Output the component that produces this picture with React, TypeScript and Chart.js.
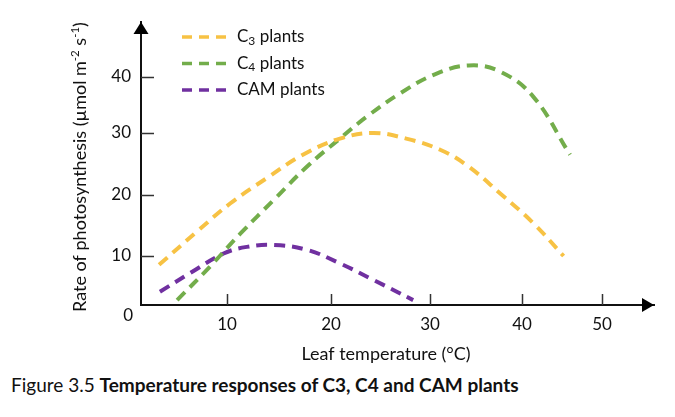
import React, { useEffect, useRef } from 'react';
import { Chart, registerables, LinearScale } from 'chart.js';

// ---- data ----
const SERIES_LABELS = ['C3 plants', 'C4 plants', 'CAM plants'];
const C3_TEMPS = [2.1, 6.5, 10.3, 13.8, 17.3, 20.9, 24.3, 27.6, 31.1, 34.0, 37.6, 41.4, 45.2];
const C3_RATES = [8.2, 14.0, 18.6, 22.7, 26.5, 29.1, 30.0, 29.1, 27.3, 24.8, 20.3, 15.4, 10.0];
const C4_TEMPS = [4.2, 8.0, 11.3, 14.5, 17.7, 20.9, 23.6, 27.0, 30.4, 34.2, 37.6, 41.4, 46.0];
const C4_RATES = [1.0, 7.8, 13.7, 19.2, 24.6, 29.1, 32.9, 37.1, 40.4, 42.1, 41.0, 36.5, 26.5];
const CAM_TEMPS = [2.2, 5.7, 9.6, 11.9, 14.5, 17.7, 20.9, 24.3, 28.3];
const CAM_RATES = [2.7, 6.5, 10.4, 11.5, 11.8, 11.0, 8.5, 5.1, 1.0];
const X_TICKS = [10, 20, 30, 40, 50];
const Y_TICKS = [10, 20, 30, 40];
const X_TITLE = 'Leaf temperature (°C)';
const Y_TITLE_PARTS = ['Rate of photosynthesis (µmol m', '-2', ' s', '-1', ')'];
const ORIGIN_LABEL = '0';

// ---- axis layout (the hand-drawn axes are not evenly spaced) ----
const WARPS: Record<string, { values: number[]; fracs: number[]; ticks: number[] }> = {
  x: { values: [0, 10, 20, 30, 40, 50, 56.5], fracs: [0, 86, 190, 289, 381, 461, 513].map((p) => p / 513), ticks: X_TICKS },
  y: { values: [0, 10, 20, 30, 40, 50], fracs: [0, 49, 110, 172, 228, 283].map((p) => p / 283), ticks: Y_TICKS },
};

function interp(v: number, from: number[], to: number[]) {
  const n = from.length;
  let i = 0;
  if (v >= from[n - 1]) i = n - 2;
  else {
    while (i < n - 2 && v > from[i + 1]) i++;
  }
  const t = (v - from[i]) / (from[i + 1] - from[i]);
  return to[i] + t * (to[i + 1] - to[i]);
}

class PiecewiseScale extends LinearScale {
  static id = 'piecewise';
  static defaults = {};
  buildTicks() {
    const w = WARPS[this.id];
    (this as any).start = this.min;
    (this as any).end = this.max;
    return w.ticks.map((v) => ({ value: v }));
  }
  getPixelForValue(value: number) {
    if (value === null || value === undefined || isNaN(value)) return NaN;
    const w = WARPS[this.id];
    return this.getPixelForDecimal(interp(value, w.values, w.fracs));
  }
  getValueForPixel(pixel: number) {
    const w = WARPS[this.id];
    return interp(this.getDecimalForPixel(pixel), w.fracs, w.values);
  }
}

Chart.register(...registerables, PiecewiseScale);

const FONT = 'Lato';
const TEXT = '#111';
const COLORS = ['#F7C244', '#73AD4B', '#7030A0'];

const decorPlugin = {
  id: 'decor',
  afterDraw(chart: any) {
    const { ctx, chartArea: a, scales } = chart;
    const xs = scales.x;
    const ys = scales.y;
    ctx.save();
    // inward tick marks
    ctx.strokeStyle = '#333';
    ctx.lineWidth = 1.5;
    ctx.beginPath();
    X_TICKS.forEach((v) => {
      const p = Math.round(xs.getPixelForValue(v)) + 0.5;
      ctx.moveTo(p, a.bottom);
      ctx.lineTo(p, a.bottom - 11);
    });
    Y_TICKS.forEach((v) => {
      const p = Math.round(ys.getPixelForValue(v)) + 0.5;
      ctx.moveTo(a.left, p);
      ctx.lineTo(a.left + 13, p);
    });
    ctx.stroke();
    // arrow heads
    ctx.fillStyle = '#000';
    ctx.beginPath();
    ctx.moveTo(a.left, a.top);
    ctx.lineTo(a.left - 7.5, a.top + 12);
    ctx.lineTo(a.left + 7.5, a.top + 12);
    ctx.closePath();
    ctx.fill();
    ctx.beginPath();
    ctx.moveTo(a.right, a.bottom);
    ctx.lineTo(a.right - 12, a.bottom - 7);
    ctx.lineTo(a.right - 12, a.bottom + 7);
    ctx.closePath();
    ctx.fill();

    ctx.fillStyle = TEXT;
    // origin label
    ctx.font = `17px ${FONT}`;
    ctx.textAlign = 'right';
    ctx.textBaseline = 'middle';
    ctx.fillText(ORIGIN_LABEL, a.left - 8, a.bottom + 11);

    // x title
    ctx.font = `18px ${FONT}`;
    ctx.textAlign = 'center';
    ctx.fillText(X_TITLE, a.left + 245, a.bottom + 49);

    // y title (rotated, with superscripts)
    const big = `18px ${FONT}`;
    const small = `11.5px ${FONT}`;
    ctx.save();
    ctx.translate(a.left - 61, a.top + 145);
    ctx.rotate(-Math.PI / 2);
    ctx.textAlign = 'left';
    ctx.textBaseline = 'middle';
    const widths = Y_TITLE_PARTS.map((s, i) => {
      ctx.font = i % 2 === 1 ? small : big;
      return ctx.measureText(s).width;
    });
    let cx = -widths.reduce((s, w) => s + w, 0) / 2;
    Y_TITLE_PARTS.forEach((s, i) => {
      const sup = i % 2 === 1;
      ctx.font = sup ? small : big;
      ctx.fillText(s, cx, sup ? -5 : 0);
      cx += widths[i];
    });
    ctx.restore();

    // legend
    const legendFont = `17px ${FONT}`;
    chart.data.datasets.forEach((ds: any, i: number) => {
      const yRow = a.top + 15 + i * 26.5;
      ctx.save();
      ctx.strokeStyle = ds.borderColor;
      ctx.lineWidth = 3.5;
      ctx.setLineDash([10, 7]);
      ctx.beginPath();
      ctx.moveTo(a.left + 41, yRow);
      ctx.lineTo(a.left + 85, yRow);
      ctx.stroke();
      ctx.restore();
      const m = /^([A-Z])(\d)(.*)$/.exec(ds.label);
      let tx = a.left + 96;
      ctx.textAlign = 'left';
      ctx.textBaseline = 'middle';
      ctx.fillStyle = TEXT;
      if (m) {
        ctx.font = legendFont;
        ctx.fillText(m[1], tx, yRow);
        tx += ctx.measureText(m[1]).width;
        ctx.font = `12px ${FONT}`;
        ctx.fillText(m[2], tx, yRow + 4);
        tx += ctx.measureText(m[2]).width;
        ctx.font = legendFont;
        ctx.fillText(m[3], tx, yRow);
      } else {
        ctx.font = legendFont;
        ctx.fillText(ds.label, tx, yRow);
      }
    });
    ctx.restore();
  },
};

function toPoints(xs: number[], ys: number[]) {
  return xs.map((x, i) => ({ x, y: ys[i] }));
}

export default function App() {
  const ref = useRef<HTMLCanvasElement>(null);
  useEffect(() => {
    const series = [
      toPoints(C3_TEMPS, C3_RATES),
      toPoints(C4_TEMPS, C4_RATES),
      toPoints(CAM_TEMPS, CAM_RATES),
    ];
    const chart = new Chart(ref.current!, {
      type: 'line',
      data: {
        datasets: series.map((data, i) => ({
          label: SERIES_LABELS[i],
          data,
          borderColor: COLORS[i],
          backgroundColor: COLORS[i],
          borderWidth: 4,
          borderDash: [11, 7],
          pointRadius: 0,
          tension: 0.4,
          fill: false,
        })),
      },
      options: {
        animation: false,
        responsive: true,
        maintainAspectRatio: false,
        layout: { padding: { top: 14, right: 13, left: 0, bottom: 0 } },
        plugins: { legend: { display: false }, tooltip: { enabled: false } },
        scales: {
          x: {
            type: 'piecewise' as any,
            min: 0,
            max: 56.5,
            grid: { display: false, drawTicks: false },
            border: { display: true, color: '#111', width: 2 },
            ticks: { padding: 9, color: TEXT, font: { family: FONT, size: 17 }, callback: (v: any) => String(v), maxRotation: 0, autoSkip: false },
            afterFit: (s: any) => { s.height = 68; s.paddingLeft = 0; s.paddingRight = 0; },
          },
          y: {
            type: 'piecewise' as any,
            min: 0,
            max: 50,
            grid: { display: false, drawTicks: false },
            border: { display: true, color: '#111', width: 2 },
            ticks: { padding: 10, color: TEXT, font: { family: FONT, size: 17 }, callback: (v: any) => String(v), autoSkip: false },
            afterFit: (s: any) => { s.width = 133; s.paddingTop = 0; s.paddingBottom = 0; },
          },
        },
      },
      plugins: [decorPlugin],
    } as any);
    return () => chart.destroy();
  }, []);
  return (
    <div style={{ width: 659, fontFamily: FONT, color: TEXT }}>
      <div style={{ position: 'relative', width: 659, height: 365 }}>
        <canvas ref={ref} />
      </div>
      <div style={{ marginLeft: 3, fontSize: 19, lineHeight: '24px', whiteSpace: 'nowrap' }}>
        Figure 3.5 <b>Temperature responses of C3, C4 and CAM plants</b>
      </div>
    </div>
  );
}
